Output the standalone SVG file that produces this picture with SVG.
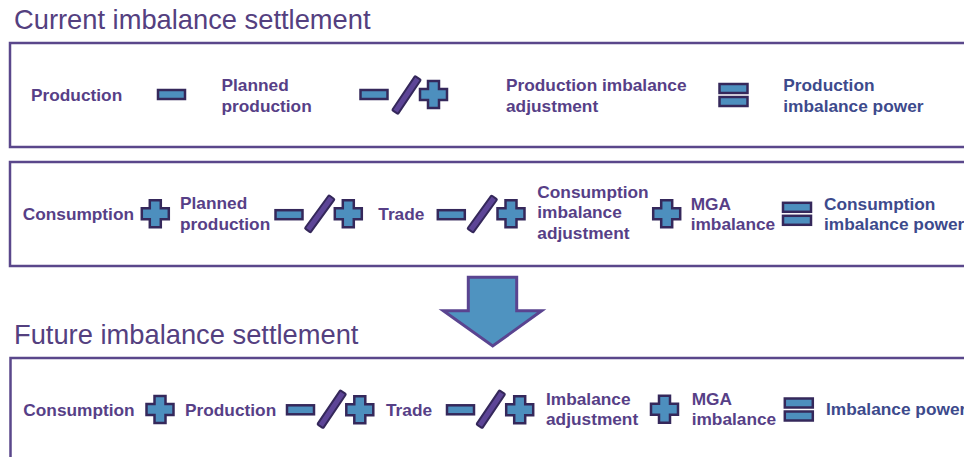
<svg xmlns="http://www.w3.org/2000/svg" width="964" height="457" viewBox="0 0 964 457">
  <defs>
    <style>
      .title { font-family: "Liberation Sans", Arial, sans-serif; font-size: 27.3px; fill: #54407f; }
      .lbl { font-family: "Liberation Sans", Arial, sans-serif; font-size: 17.3px; font-weight: bold; fill: #573f87; }
      .res { font-family: "Liberation Sans", Arial, sans-serif; font-size: 17.3px; font-weight: bold; fill: #3d4a8c; }
      .frame { fill: none; stroke: #5a478b; stroke-width: 2.5; }
      .op { fill: #4d8fbe; stroke: #35285b; stroke-width: 2.5; stroke-linejoin: miter; }
      .slash { fill: #5d4597; stroke: #35285b; stroke-width: 2; }
      .arrow { fill: #4f93c0; stroke: #5a4490; stroke-width: 3; stroke-linejoin: miter; }
    </style>
    <!-- operator glyphs, centred on the origin -->
    <path id="plus" class="op" d="M-5.5,-13.5 h11 v8 h8 v11 h-8 v8 h-11 v-8 h-8 v-11 h8 z"/>
    <rect id="minus" class="op" x="-13.5" y="-4.5" width="27" height="9"/>
    <g id="equals">
      <rect class="op" x="-14" y="-11" width="28" height="9"/>
      <rect class="op" x="-14" y="2" width="28" height="9"/>
    </g>
    <rect id="slash" class="slash" x="-3.5" y="-20.5" width="7" height="41" rx="1"/>
  </defs>

  <!-- section headings -->
  <text class="title" x="14" y="29">Current imbalance settlement</text>
  <text class="title" x="14" y="344">Future imbalance settlement</text>

  <!-- frames (run off the right edge) -->
  <rect class="frame" x="10" y="43" width="1000" height="104"/>
  <rect class="frame" x="10" y="162" width="1000" height="104"/>
  <rect class="frame" x="10.5" y="358" width="1000" height="140"/>

  <!-- row 1: production imbalance -->
  <g id="row-production">
    <g id="n-production"><text class="lbl" x="31" y="101">Production</text></g>
    <use href="#minus" x="171.5" y="94.5"/>
    <g id="n-planned-production"><text class="lbl" x="221.5" y="90.7">Planned</text><text class="lbl" x="221.5" y="111.5">production</text></g>
    <use href="#minus" x="374" y="94.5"/>
    <use href="#slash" transform="translate(406.5,95) rotate(34)"/>
    <use href="#plus" x="433.5" y="94.5"/>
    <g id="n-production-adjustment"><text class="lbl" x="506" y="90.7">Production imbalance</text><text class="lbl" x="506" y="111.5">adjustment</text></g>
    <use href="#equals" x="733.5" y="95"/>
    <g id="n-production-power"><text class="res" x="783.3" y="90.7">Production</text><text class="res" x="783.3" y="111.5">imbalance power</text></g>
  </g>

  <!-- row 2: consumption imbalance -->
  <g id="row-consumption">
    <g id="n-consumption"><text class="lbl" x="22.7" y="220">Consumption</text></g>
    <use href="#plus" x="155.3" y="213.7"/>
    <g id="n-planned-production-2"><text class="lbl" x="180" y="209.3">Planned</text><text class="lbl" x="180" y="230">production</text></g>
    <use href="#minus" x="289" y="214.7"/>
    <use href="#slash" transform="translate(319.7,213.8) rotate(36)"/>
    <use href="#plus" x="348.3" y="213.8"/>
    <g id="n-trade"><text class="lbl" x="378.3" y="220">Trade</text></g>
    <use href="#minus" x="451.3" y="214.7"/>
    <use href="#slash" transform="translate(482.3,214) rotate(36)"/>
    <use href="#plus" x="511" y="213.8"/>
    <g id="n-consumption-adjustment"><text class="lbl" x="537.3" y="197.7">Consumption</text><text class="lbl" x="537.3" y="218.3">imbalance</text><text class="lbl" x="537.3" y="239.3">adjustment</text></g>
    <use href="#plus" x="666.7" y="213.8"/>
    <g id="n-mga"><text class="lbl" x="690.7" y="210">MGA</text><text class="lbl" x="690.7" y="230">imbalance</text></g>
    <use href="#equals" x="797" y="213.8"/>
    <g id="n-consumption-power"><text class="res" x="824" y="210">Consumption</text><text class="res" x="824" y="230">imbalance power</text></g>
  </g>

  <!-- transition arrow -->
  <g id="connectors">
    <polygon class="arrow" points="468.3,277.3 516.7,277.3 516.7,310.7 541.7,310.7 492.7,346 443.3,310.7 468.3,310.7"/>
  </g>

  <!-- row 3: single imbalance -->
  <g id="row-future">
    <g id="n-consumption-3"><text class="lbl" x="23.3" y="415.7">Consumption</text></g>
    <use href="#plus" x="160" y="409.5"/>
    <g id="n-production-3"><text class="lbl" x="185" y="415.7">Production</text></g>
    <use href="#minus" x="300.5" y="409.8"/>
    <use href="#slash" transform="translate(331.7,409.2) rotate(34)"/>
    <use href="#plus" x="359.8" y="409.7"/>
    <g id="n-trade-3"><text class="lbl" x="386" y="415.7">Trade</text></g>
    <use href="#minus" x="460.5" y="409.8"/>
    <use href="#slash" transform="translate(490.8,409.2) rotate(34)"/>
    <use href="#plus" x="519.7" y="409.7"/>
    <g id="n-imbalance-adjustment"><text class="lbl" x="546" y="404.5">Imbalance</text><text class="lbl" x="546" y="424.7">adjustment</text></g>
    <use href="#plus" x="664.5" y="409.2"/>
    <g id="n-mga-3"><text class="lbl" x="691.7" y="404.5">MGA</text><text class="lbl" x="691.7" y="424.7">imbalance</text></g>
    <use href="#equals" x="798.8" y="409.5"/>
    <g id="n-imbalance-power"><text class="res" x="826" y="415">Imbalance power</text></g>
  </g>
</svg>
